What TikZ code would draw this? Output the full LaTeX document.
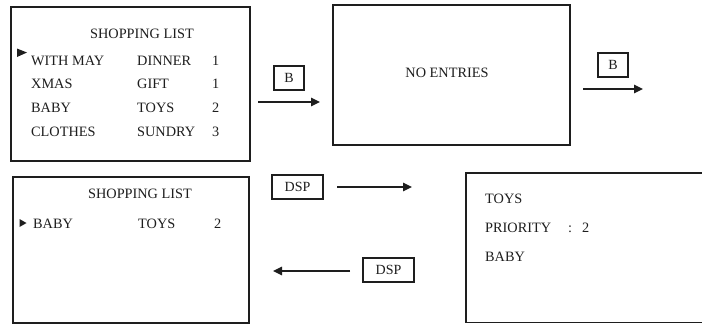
\documentclass[tikz,border=0pt]{standalone}
\usepackage{fontspec}
\setmainfont{Liberation Serif}
\usetikzlibrary{arrows.meta}
\definecolor{ink}{HTML}{1E1E1E}
\tikzset{
  screen/.style={draw=ink, line width=1.3pt, rectangle, inner sep=0pt},
  keybox/.style={draw=ink, line width=1.1pt, rectangle, minimum height=24pt, inner sep=0pt, font=\fontsize{14}{14}\selectfont, text=ink},
  txt/.style={anchor=west, inner sep=0pt, text height=10pt, text depth=0pt, font=\fontsize{14.3}{14.3}\selectfont, text=ink},
  ctxt/.style={txt, anchor=center},
  flow/.style={draw=ink, line width=1.3pt, -{Triangle[length=9pt,width=8.5pt]}},
  marker/.style={fill=ink, draw=none}
}
\begin{document}
\begin{tikzpicture}[x=1pt,y=-1pt]
\useasboundingbox (0,0) rectangle (702,325);
\fill[white] (0,0) rectangle (702,325);
% screen 1
\node[screen, minimum width=239pt, minimum height=154pt] (s1) at (130.5,84) {};
\node[ctxt] (s1t) at (142,33) {SHOPPING LIST};
\fill[marker] (17,48.5) -- (17,57) -- (27,52.5) -- cycle;
\node[txt] (r1a) at (31,60) {WITH MAY};
\node[txt] (r1b) at (137,60) {DINNER};
\node[txt] (r1c) at (212,60) {1};
\node[txt] (r2a) at (31,83) {XMAS};
\node[txt] (r2b) at (137,83) {GIFT};
\node[txt] (r2c) at (212,83) {1};
\node[txt] (r3a) at (31,107) {BABY};
\node[txt] (r3b) at (137,107) {TOYS};
\node[txt] (r3c) at (212,107) {2};
\node[txt] (r4a) at (31,131) {CLOTHES};
\node[txt] (r4b) at (137,131) {SUNDRY};
\node[txt] (r4c) at (212,131) {3};
% key B 1
\node[keybox, minimum width=30pt] (b1) at (289,78) {B};
\coordinate (a1s) at (258,102);
\coordinate (a1e) at (320,102);
\draw[flow] (a1s) -- (a1e);
% screen 2
\node[screen, minimum width=237pt, minimum height=140pt] (s2) at (451.5,75) {};
\node[ctxt] (s2t) at (447,72) {NO ENTRIES};
% key B 2
\node[keybox, minimum width=30pt] (b2) at (613,65) {B};
\coordinate (a2s) at (583,89);
\coordinate (a2e) at (643,89);
\draw[flow] (a2s) -- (a2e);
% screen 3
\node[screen, minimum width=236pt, minimum height=146pt] (s3) at (131,250) {};
\node[ctxt] (s3t) at (140,193) {SHOPPING LIST};
\fill[marker] (19.5,219) -- (19.5,227) -- (26.5,223) -- cycle;
\node[txt] (q1a) at (33,223) {BABY};
\node[txt] (q1b) at (138,223) {TOYS};
\node[txt] (q1c) at (214,223) {2};
% DSP keys
\node[keybox, minimum width=51pt] (d1) at (297.5,187) {DSP};
\coordinate (a3s) at (337,187);
\coordinate (a3e) at (412,187);
\draw[flow] (a3s) -- (a3e);
\node[keybox, minimum width=51pt] (d2) at (388.5,270) {DSP};
\coordinate (a4s) at (350,271);
\coordinate (a4e) at (273,271);
\draw[flow] (a4s) -- (a4e);
% screen 4 (runs off right edge)
\draw[draw=ink, line width=1.3pt] (702,173) -- (466,173) -- (466,322.5) -- (702,322.5);
\node[txt] (p1) at (485,198) {TOYS};
\node[txt] (p2) at (485,227) {PRIORITY};
\node[txt] (p2c) at (568,227) {:};
\node[txt] (p2v) at (582,227) {2};
\node[txt] (p3) at (485,256) {BABY};
\end{tikzpicture}
\end{document}
